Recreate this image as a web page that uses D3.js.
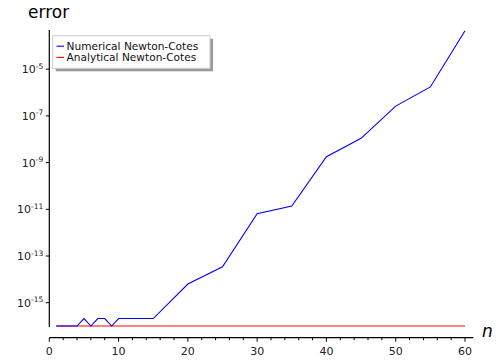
<!DOCTYPE html>
<html><head><meta charset="utf-8">
<script src="https://cdn.jsdelivr.net/npm/d3@7"></script>
<style>body{margin:0;background:#fff}svg{display:block}text{font-family:"DejaVu Sans",sans-serif}</style>
</head><body><svg id="c" width="504" height="361"></svg>
<script>
const nValues = [1,2,3,4,5,6,7,8,9,10,15,20,25,30,35,40,45,50,55,60];
const numericalErr = [1e-16,1e-16,1e-16,1e-16,2.1e-16,1e-16,2.1e-16,2.1e-16,1e-16,2.1e-16,2.1e-16,
  Math.pow(10,-14.2),Math.pow(10,-13.46),Math.pow(10,-11.19),Math.pow(10,-10.86),
  Math.pow(10,-8.75),Math.pow(10,-7.96),Math.pow(10,-6.58),Math.pow(10,-5.76),Math.pow(10,-3.35)];
const analyticalErr = nValues.map(()=>1e-16);
const xTicks = [0,10,20,30,40,50,60];
const yTickExps = [-15,-13,-11,-9,-7,-5];
const seriesNames = ["Numerical Newton-Cotes","Analytical Newton-Cotes"];
const seriesColors = ["#0000ff","#ff0000"];

const svg = d3.select("#c");
const x = d3.scaleLinear().domain([0,60]).range([49.3,465]);
const y = d3.scaleLog().domain([1e-15,1e-5]).range([302.7,69.2]);
const xAxisY = 337.7;

// y axis
const allVals = numericalErr.concat(analyticalErr);
const yMin = d3.min(allVals), yMax = d3.max(allVals);
svg.append("line").attr("x1",x(0)).attr("x2",x(0)).attr("y1",y(yMax)-0.7).attr("y2",y(yMin)+1)
  .attr("stroke","#000").attr("stroke-width",1.2);
const yg = svg.append("g");
yTickExps.forEach(e=>{
  const yy = y(Math.pow(10,e));
  yg.append("line").attr("x1",x(0)-3.5).attr("x2",x(0)).attr("y1",yy).attr("y2",yy).attr("stroke","#000");
  const t = yg.append("text").attr("x",x(0)-6).attr("y",yy+4).attr("text-anchor","end").attr("font-size",11).attr("fill","#222");
  t.append("tspan").text("10");
  t.append("tspan").attr("font-size",7.5).attr("dy",-4.5).text("-"+(-e));
});

// x axis
svg.append("line").attr("x1",x(0)).attr("x2",x(61.2)).attr("y1",xAxisY).attr("y2",xAxisY)
  .attr("stroke","#000").attr("stroke-width",1.2);
d3.range(0,61,2).forEach(v=>{
  const major = v%10===0;
  svg.append("line").attr("x1",x(v)).attr("x2",x(v)).attr("y1",xAxisY).attr("y2",xAxisY+(major?4:2.5))
    .attr("stroke","#000");
});
xTicks.forEach(v=>{
  svg.append("text").attr("x",x(v)).attr("y",355).attr("text-anchor","middle").attr("font-size",11).attr("fill","#222").text(v);
});
svg.append("text").attr("x",482).attr("y",337).attr("font-family","'Liberation Serif',serif").attr("font-style","italic")
  .attr("font-size",17).text("n");

// title
svg.append("text").attr("x",28).attr("y",18).attr("font-size",17).text("error");

// lines
const line = d3.line().x((d,i)=>x(nValues[i])).y(d=>y(d));
svg.append("path").datum(analyticalErr).attr("d",line).attr("fill","none").attr("stroke",seriesColors[1]).attr("stroke-width",1.1);
svg.append("path").datum(numericalErr).attr("d",line).attr("fill","none").attr("stroke",seriesColors[0]).attr("stroke-width",1.1);

// legend
const lg = svg.append("g");
lg.append("rect").attr("x",55.7).attr("y",38.7).attr("width",157.3).attr("height",32.6).attr("fill","#999");
lg.append("rect").attr("x",52.7).attr("y",35.7).attr("width",157.3).attr("height",32.6).attr("fill","#fff").attr("stroke","#ccc").attr("stroke-width",1);
seriesNames.forEach((s,i)=>{
  const cy = 46.2 + i*11.2;
  lg.append("line").attr("x1",56.5).attr("x2",64).attr("y1",cy).attr("y2",cy).attr("stroke",seriesColors[i]).attr("stroke-width",1.1);
  lg.append("text").attr("x",66.5).attr("y",cy+3.8).attr("font-size",10.6).attr("fill","#111").text(s);
});
</script></body></html>
